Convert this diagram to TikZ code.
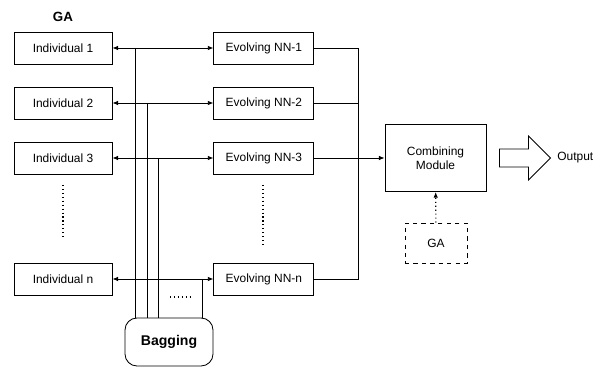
\documentclass[tikz,border=0pt]{standalone}
\usepackage{fontspec}
\setmainfont{Liberation Sans}
\usetikzlibrary{arrows.meta,positioning,shapes.arrows}

\begin{document}
\begin{tikzpicture}[
        x=0.025cm, y=-0.025cm,
        node distance=2.525cm,
        semithick,
        box/.style={rectangle, draw, minimum width=2.45cm,
                    minimum height=0.8cm, align=center,
                    font=\fontsize{8.5}{10}\selectfont},
        nnbox/.style={box, minimum width=2.5cm},
        lbl/.style={font=\bfseries\fontsize{9.5}{11}\selectfont},
        tip/.style={-{Latex[length=4pt,width=3.2pt]}}
      ]
      \useasboundingbox (0,0) rectangle (600,367);

      \node[box] (ind1) at (63,48) {Individual 1};
      \node[box] (ind2) at (63,103) {Individual 2};
      \node[box] (ind3) at (63,158) {Individual 3};
      \node[box] (indn) at (63,279) {Individual n};
      \node[lbl, above=0.12cm of ind1] (ga) {GA};

      \node[nnbox, right=of ind1] (nn1) {Evolving NN-1};
      \node[nnbox, right=of ind2] (nn2) {Evolving NN-2};
      \node[nnbox, right=of ind3] (nn3) {Evolving NN-3};
      \node[nnbox, right=of indn] (nnn) {Evolving NN-n};

      \node[box, minimum width=2.525cm, minimum height=1.675cm] (comb) at (435.5,158) {Combining\\Module};
      \node[box, dashed, minimum width=1.55cm, minimum height=1cm] (ga2) at (436,243) {GA};
      \node[box, rounded corners=0.3cm, minimum width=2.2cm, minimum height=1.2cm,
            font=\bfseries\fontsize{10}{12}\selectfont] (bag) at (169,342) {Bagging};

      \node[single arrow, draw, minimum height=1.275cm, inner sep=0.2125cm,
            single arrow head extend=0.325cm] (outarr) at (520.5,158) {};
      \node[anchor=west, inner sep=0pt, font=\fontsize{8.5}{10}\selectfont] (out) at (557,158) {Output};

      \coordinate (j1) at (135,48);
      \coordinate (j2) at (147,103);
      \coordinate (j3) at (158,158);
      \coordinate (jn) at (202,279);
      \coordinate (bus) at (358,0);

      \draw[tip] (j1) -- (ind1);
      \draw[tip] (j1) -- (nn1);
      \draw[tip] (j2) -- (ind2);
      \draw[tip] (j2) -- (nn2);
      \draw[tip] (j3) -- (ind3);
      \draw[tip] (j3) -- (nn3);
      \draw[tip] (jn) -- (indn);
      \draw[tip] (jn) -- (nnn);

      \draw (j1) -- (j1 |- bag.north);
      \draw (j2) -- (j2 |- bag.north);
      \draw (j3) -- (j3 |- bag.north);
      \draw (jn) -- (jn |- bag.north);
      \draw[dotted, thick] (170,297) -- (192,297);

      \draw (nn1) -- (nn1 -| bus) -- (nnn -| bus) -- (nnn);
      \draw (nn2) -- (nn2 -| bus);
      \draw[tip] (nn3) -- (comb);
      \draw[tip, dotted, thick] (ga2) -- (comb);

      \draw[dotted, thick] (63,185) -- (63,240);
      \draw[dotted, thick] (263,185) -- (263,245);
    \end{tikzpicture}
\end{document}
